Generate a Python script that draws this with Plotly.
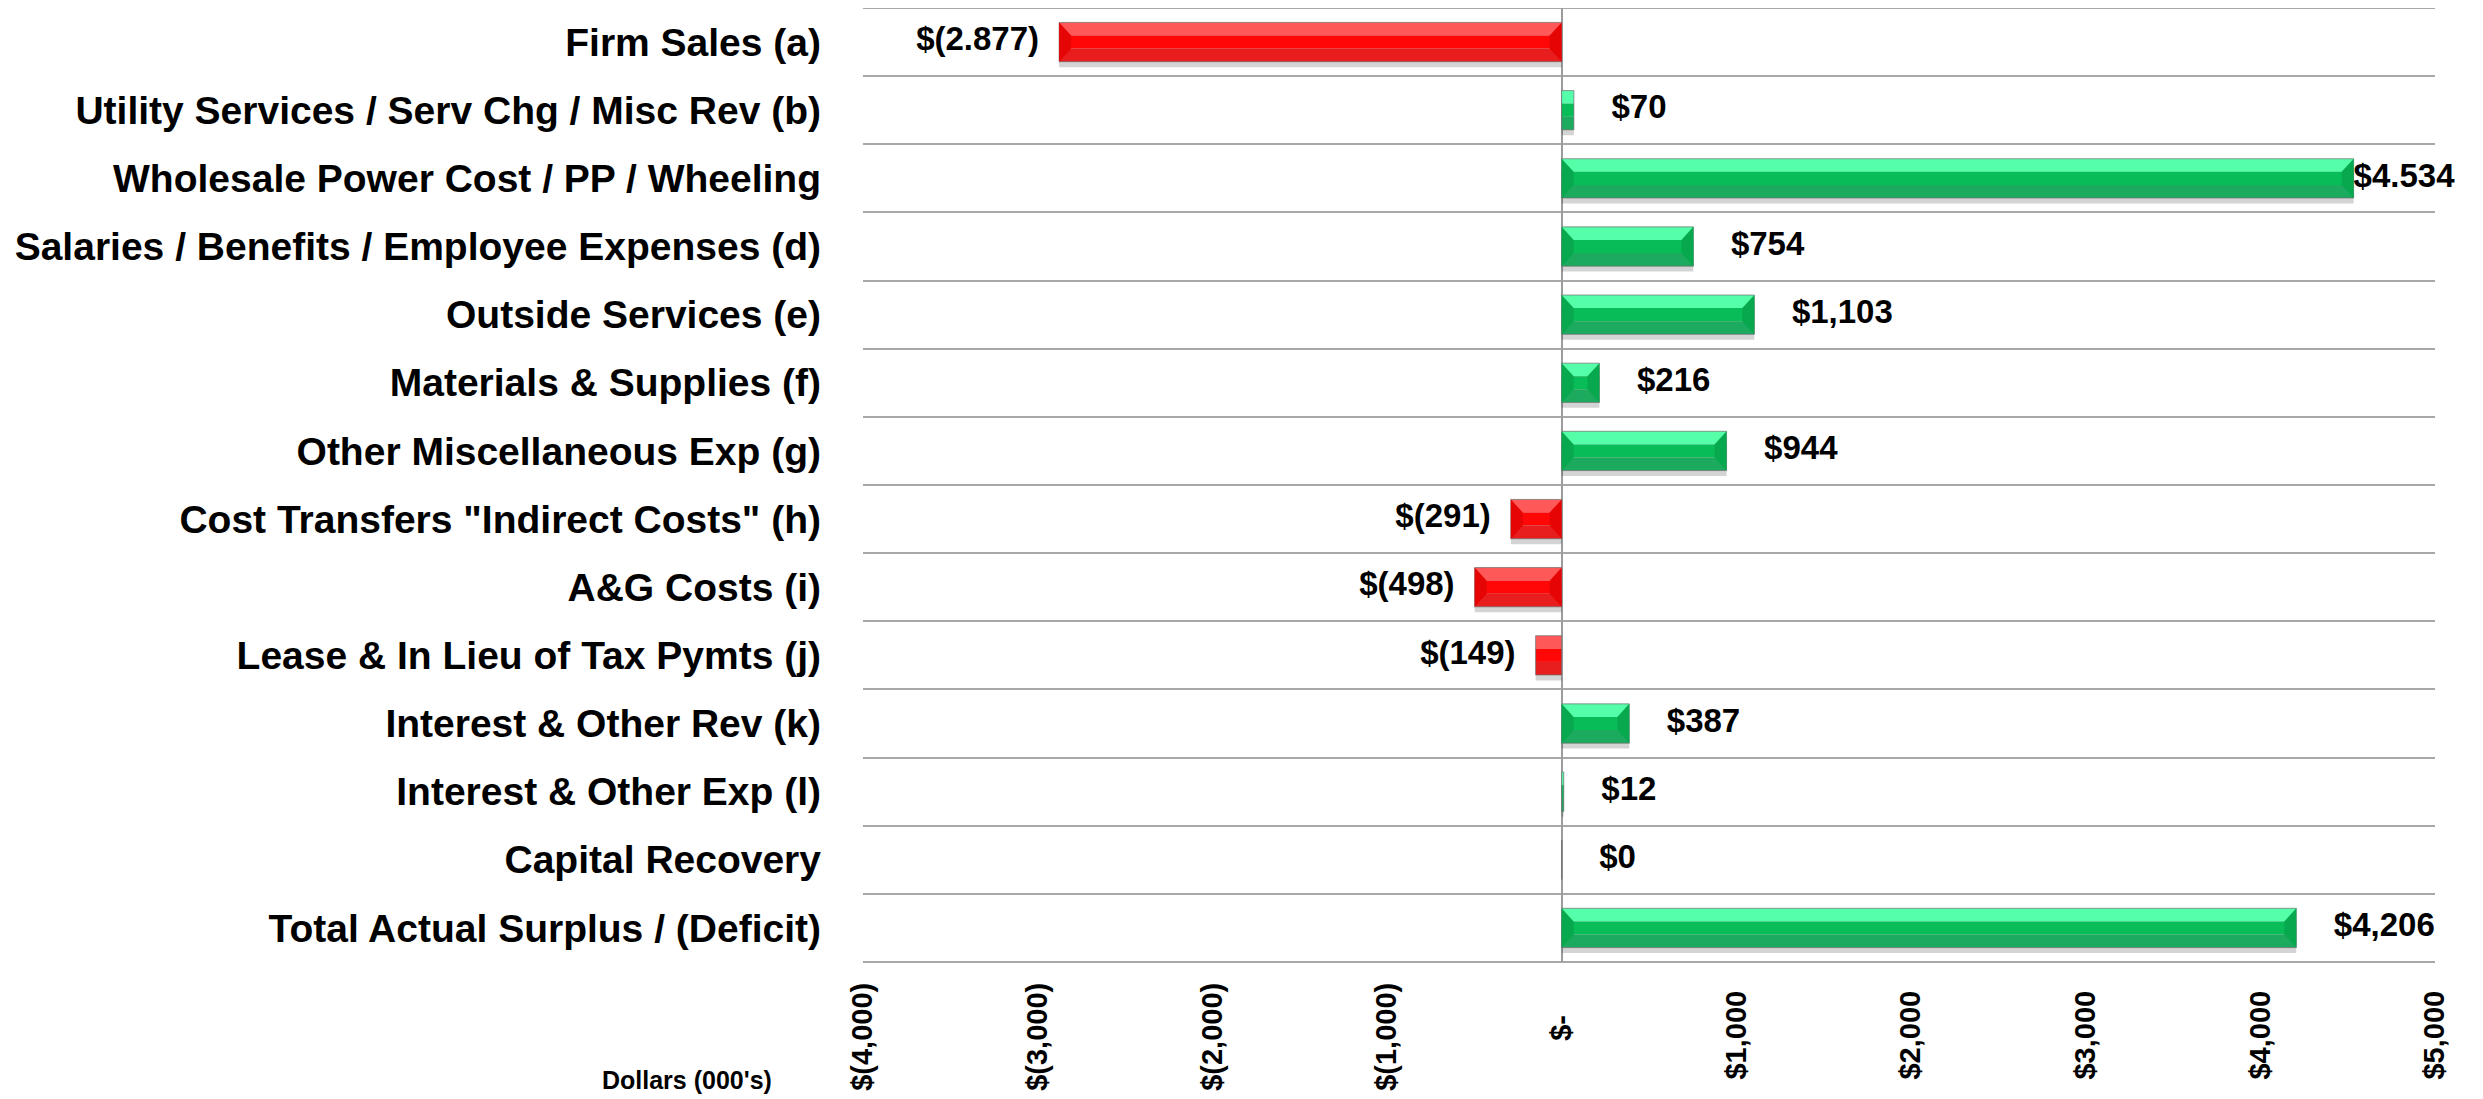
import plotly.graph_objects as go

categories = [
    "Firm Sales (a)",
    "Utility Services / Serv Chg / Misc Rev (b)",
    "Wholesale Power Cost / PP / Wheeling",
    "Salaries / Benefits / Employee Expenses (d)",
    "Outside Services (e)",
    "Materials & Supplies (f)",
    "Other Miscellaneous Exp (g)",
    "Cost Transfers \"Indirect Costs\" (h)",
    "A&G Costs (i)",
    "Lease & In Lieu of Tax Pymts (j)",
    "Interest & Other Rev (k)",
    "Interest & Other Exp (l)",
    "Capital Recovery",
    "Total Actual Surplus / (Deficit)",
]
values = [-2877, 70, 4534, 754, 1103, 216, 944, -291, -498, -149, 387, 12, 0, 4206]
value_labels = ["$(2.877)", "$70", "$4.534", "$754", "$1,103", "$216", "$944",
                "$(291)", "$(498)", "$(149)", "$387", "$12", "$0", "$4,206"]
x_tickvals = [-4000, -3000, -2000, -1000, 0, 1000, 2000, 3000, 4000, 5000]
x_ticktext = ["$(4,000)", "$(3,000)", "$(2,000)", "$(1,000)", "$-\u00a0\u00a0\u00a0\u00a0",
              "$1,000\u00a0", "$2,000\u00a0", "$3,000\u00a0", "$4,000\u00a0", "$5,000\u00a0"]
axis_title = "Dollars (000's)"

RED = {"top": "#FF5858", "mid": "#FF0707", "bot": "#E81D1D", "end": "#E60505"}
GREEN = {"top": "#55FFAA", "mid": "#08BD57", "bot": "#1CAA5F", "end": "#07A84E"}
GRID = "#A8A8A8"
X_MIN, X_MAX = -4000, 5000

def colors(part):
    return [RED[part] if v < 0 else GREEN[part] for v in values]

BW = 0.576
T = BW / 3
fig = go.Figure()
# soft shadow
fig.add_trace(go.Bar(x=values, y=categories, orientation="h", width=BW, offset=-BW / 2 + 0.08,
                     marker=dict(color="rgba(0,0,0,0.17)", line=dict(width=0)),
                     hoverinfo="skip", showlegend=False))
for i, part in enumerate(["top", "mid", "bot"]):
    fig.add_trace(go.Bar(x=values, y=categories, orientation="h", width=T,
                         offset=-BW / 2 + i * T,
                         marker=dict(color=colors(part), line=dict(width=0)),
                         showlegend=False))

# bevelled bar ends (chamfer ~12px, expressed in data units of the x axis)
PLOT_W_PX = 2475 - 855 - 48
E = 12 * (X_MAX - X_MIN) / PLOT_W_PX
for i, v in enumerate(values):
    if abs(v) < 2.2 * E:
        continue
    x0, x1 = min(0, v), max(0, v)
    yt, yb = i - BW / 2, i + BW / 2
    col = RED["end"] if v < 0 else GREEN["end"]
    for xa, d in ((x0, E), (x1, -E)):
        path = (f"M {xa},{yt} L {xa + d},{yt + T} L {xa + d},{yb - T} L {xa},{yb} Z")
        fig.add_shape(type="path", path=path, xref="x", yref="y",
                      fillcolor=col, line=dict(width=0), layer="above")

fig.add_trace(go.Bar(x=values, y=categories, orientation="h", width=BW, offset=-BW / 2,
                     marker=dict(color="rgba(0,0,0,0)", line=dict(width=1, color="rgba(110,110,110,0.7)")),
                     hoverinfo="skip", showlegend=False))

PAD_POS, PAD_NEG = 215, 115
label_x = []
label_pos = []
for v in values:
    if v < 0:
        label_x.append(v - PAD_NEG)
        label_pos.append("middle left")
    elif v + PAD_POS <= 4500:
        label_x.append(v + PAD_POS)
        label_pos.append("middle right")
    else:
        label_x.append(v)
        label_pos.append("middle right")

fig.add_trace(go.Scatter(x=label_x, y=categories, mode="text", text=value_labels,
                         textposition=label_pos, cliponaxis=False,
                         textfont=dict(family="Liberation Sans", size=33, color="black", weight="bold"),
                         showlegend=False, hoverinfo="skip"))

fig.add_annotation(text=axis_title, xref="paper", yref="paper", x=-0.112, y=-0.1237,
                   xanchor="center", yanchor="middle", showarrow=False,
                   font=dict(family="Liberation Sans", size=25, color="black", weight="bold"))

# outer category boundaries (top and bottom grid lines)
for yp in (0, 1):
    fig.add_shape(type="line", xref="paper", yref="paper", x0=0, x1=1, y0=yp, y1=yp,
                  line=dict(color=GRID, width=2), layer="below")

n = len(categories)
# the page body adds an 8px margin, so the figure is sized to end at the window edge
fig.update_layout(
    width=2475, height=1091,
    margin=dict(l=855, r=48, t=0, b=137),
    barmode="overlay",
    paper_bgcolor="white", plot_bgcolor="white",
    xaxis=dict(range=[X_MIN, X_MAX], tickvals=x_tickvals, ticktext=x_ticktext, automargin=False,
               tickangle=-90, showgrid=False, zeroline=True, zerolinecolor="#9C9C9C",
               zerolinewidth=1.5, showline=False, ticks="", ticklabelstandoff=14,
               tickfont=dict(family="Liberation Sans", size=29, color="black", weight="bold")),
    yaxis=dict(type="category", range=[n - 0.5, -0.5], tickson="boundaries", showgrid=True,
               gridcolor=GRID, gridwidth=2, showline=False, ticks="", automargin=False,
               ticklabelstandoff=41, zeroline=False,
               tickfont=dict(family="Liberation Sans", size=39, color="black", weight="bold")),
)

fig.write_html("out.html")
